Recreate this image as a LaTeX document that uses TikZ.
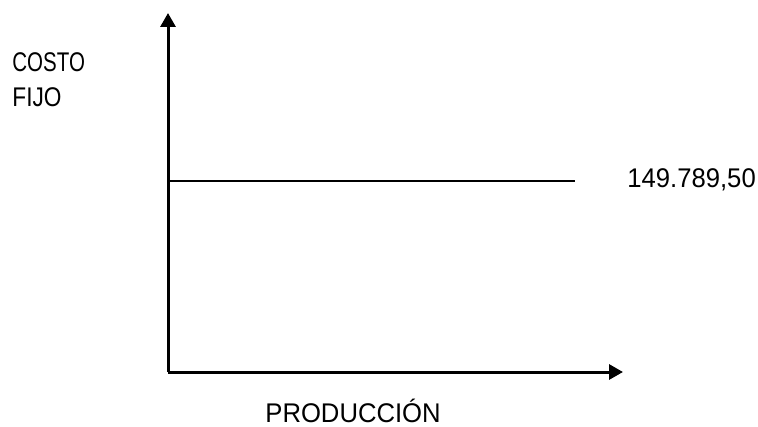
\documentclass[tikz,border=0pt]{standalone}
\usepackage{fontspec}
\setmainfont{Liberation Sans}
\usetikzlibrary{arrows.meta}
\newcommand{\drawaxis}{\draw[line width=1.5pt,-{Triangle[width=7.5pt,length=7pt]}]}
\newcommand{\labeltext}[5]{\node[anchor=base west,inner sep=0pt,font=\fontsize{13.5pt}{16pt}\selectfont] (#1) at (#2,#3) {\scalebox{#4}[1]{#5}};}
\begin{document}
\begin{tikzpicture}[x=0.5pt,y=-0.5pt]
\useasboundingbox (0,0) rectangle (758,427);
\coordinate (origin) at (168,372);
\coordinate (ytip) at (168,13);
\coordinate (xtip) at (623,372);
\coordinate (fixa) at (169,181);
\coordinate (fixb) at (575,181);
\drawaxis (origin)--(ytip);
\drawaxis (origin)--(xtip);
\draw[line width=0.65pt] (fixa)--(fixb);
\labeltext{costo}{12}{72}{0.76}{COSTO}\labeltext{fijo}{12}{107}{0.84}{FIJO}\labeltext{valor}{627}{187}{0.95}{149.789,50}\labeltext{prod}{265}{422}{0.95}{PRODUCCIÓN}
\end{tikzpicture}
\end{document}
